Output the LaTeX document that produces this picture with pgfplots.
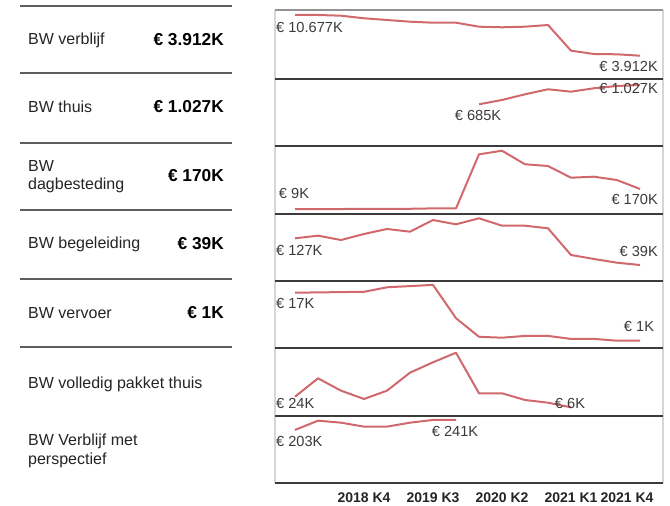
\documentclass[border=0pt]{standalone}
\usepackage{pgfplots}
\pgfplotsset{compat=1.18}
\usepackage{fontspec}
\setmainfont{Liberation Sans}
\definecolor{linecol}{HTML}{D0686C}
\definecolor{txt}{HTML}{252423}
\definecolor{ptxt}{HTML}{3A3A3A}
\definecolor{sep}{HTML}{3C3C3C}
\definecolor{lsep}{HTML}{5E5E5E}
\definecolor{side}{HTML}{D6D6D6}
\newcommand{\LF}{\fontsize{16}{18}\selectfont}
\newcommand{\VF}{\fontsize{17.3}{19}\selectfont\bfseries}
\newcommand{\PF}{\fontsize{14.6}{16}\selectfont}
\pgfplotsset{
  spark/.style={
    scale only axis, width=388pt,
    xmin=-0.8696, xmax=16,
    axis line style={draw=none},
    major tick length=0pt,
    xtick=\empty, ytick=\empty,
    anchor=south west,
  },
  sline/.style={color=linecol, line width=2pt, no markers, line join=round},
}
\begin{document}
\begin{tikzpicture}
\useasboundingbox (0,0) rectangle (670pt,506pt);

% ---- left table lines
\foreach \yy in {6,73,143,210,279,347}{
  \draw[lsep, line width=1.8pt] (20pt,{(506-\yy)*1pt}) -- (232pt,{(506-\yy)*1pt});
}
% ---- left labels (baselines)
\node[anchor=base west, inner sep=0, text=txt, font=\LF] at (28pt,{(506-44.3)*1pt}) {BW verblijf};
\node[anchor=base west, inner sep=0, text=txt, font=\LF] at (28pt,{(506-112.5)*1pt}) {BW thuis};
\node[anchor=base west, inner sep=0, text=txt, font=\LF] at (28pt,{(506-172)*1pt}) {BW};
\node[anchor=base west, inner sep=0, text=txt, font=\LF] at (28pt,{(506-190)*1pt}) {dagbesteding};
\node[anchor=base west, inner sep=0, text=txt, font=\LF] at (28pt,{(506-249)*1pt}) {BW begeleiding};
\node[anchor=base west, inner sep=0, text=txt, font=\LF] at (28pt,{(506-318.5)*1pt}) {BW vervoer};
\node[anchor=base west, inner sep=0, text=txt, font=\LF] at (28pt,{(506-388.5)*1pt}) {BW volledig pakket thuis};
\node[anchor=base west, inner sep=0, text=txt, font=\LF] at (28pt,{(506-446)*1pt}) {BW Verblijf met};
\node[anchor=base west, inner sep=0, text=txt, font=\LF] at (28pt,{(506-465)*1pt}) {perspectief};
% values
\node[anchor=base east, inner sep=0, text=black, font=\VF] at (224pt,{(506-45.3)*1pt}) {€ 3.912K};
\node[anchor=base east, inner sep=0, text=black, font=\VF] at (224pt,{(506-113)*1pt}) {€ 1.027K};
\node[anchor=base east, inner sep=0, text=black, font=\VF] at (224pt,{(506-181.3)*1pt}) {€ 170K};
\node[anchor=base east, inner sep=0, text=black, font=\VF] at (224pt,{(506-249.3)*1pt}) {€ 39K};
\node[anchor=base east, inner sep=0, text=black, font=\VF] at (224pt,{(506-319)*1pt}) {€ 1K};

% ---- right panel frame
\draw[side, line width=1.8pt] (275pt,{(506-10)*1pt}) -- (275pt,{(506-483)*1pt});
\draw[side, line width=1.8pt] (663pt,{(506-10)*1pt}) -- (663pt,{(506-483)*1pt});

% ---- sparklines
\begin{axis}[spark, at={(275pt,427pt)}, height=69pt, ymin=40, ymax=11508]
\addplot[sline] coordinates {(0,10677)(1,10677)(2,10561)(3,10129)(4,9846)(5,9563)(6,9397)(7,9397)(8,8732)(9,8633)(10,8732)(11,9015)(12,4744)(13,4195)(14,4145)(15,3912)};
\end{axis}
\begin{axis}[spark, at={(275pt,360pt)}, height=67pt, ymin=-54, ymax=1133]
\addplot[sline] coordinates {(8,685)(9,761)(10,862)(11,951)(12,908)(13,969)(14,1009)(15,1027)};
\end{axis}
\begin{axis}[spark, at={(275pt,292pt)}, height=68pt, ymin=-31, ymax=516]
\addplot[sline] coordinates {(0,9)(1,9)(2,9)(3,10)(4,10)(5,11)(6,14)(7,14)(8,449)(9,478)(10,369)(11,355)(12,261)(13,269)(14,242)(15,170)};
\end{axis}
\begin{axis}[spark, at={(275pt,225pt)}, height=67pt, ymin=-13.7, ymax=207.1]
\addplot[sline] coordinates {(0,127)(1,135.6)(2,121.4)(3,141.2)(4,157.7)(5,148.8)(6,187.3)(7,173.1)(8,192.9)(9,168.5)(10,168.5)(11,160)(12,72)(13,58.8)(14,46.6)(15,39)};
\end{axis}
\begin{axis}[spark, at={(275pt,158pt)}, height=67pt, ymin=-1.43, ymax=20.9]
\addplot[sline] coordinates {(0,17)(1,17.1)(2,17.2)(3,17.3)(4,18.8)(5,19.2)(6,19.6)(7,8.5)(8,2.3)(9,2.0)(10,2.6)(11,2.6)(12,1.6)(13,1.6)(14,1.0)(15,1.0)};
\end{axis}
\begin{axis}[spark, at={(275pt,90pt)}, height=68pt, ymin=-8.8, ymax=106.7]
\addplot[sline] coordinates {(0,24)(1,55.2)(2,34.2)(3,20.1)(4,34.2)(5,64.8)(6,82.4)(7,98.7)(8,29.8)(9,29.8)(10,18.4)(11,13.8)(12,6)};
\end{axis}
\begin{axis}[spark, at={(275pt,23pt)}, height=67pt, ymin=0, ymax=256.2,
  xtick={3,6,9,12}, xticklabels={2018 K4,2019 K3,2020 K2,2021 K1},
  extra x ticks={15}, extra x tick labels={2021 K4},
  extra x tick style={xticklabel style={xshift=-13pt}},
  xticklabel style={font=\fontsize{14}{16}\selectfont\bfseries, text=txt, anchor=base, yshift=-20pt}]
\addplot[sline] coordinates {(0,203)(1,238.3)(2,230.7)(3,215.5)(4,215.5)(5,230.7)(6,241)(7,241)};
\end{axis}

% ---- right panel horizontal lines
\draw[gray!85, line width=2pt] (275pt,{(506-10)*1pt}) -- (663pt,{(506-10)*1pt});
\foreach \yy in {79,146,214,281,348,416,483}{
  \draw[sep, line width=1.4pt] (275pt,{(506-\yy)*1pt}) -- (663pt,{(506-\yy)*1pt});
}

% ---- panel data labels
\node[anchor=base west, inner sep=0, text=ptxt, font=\PF] at (276pt,{(506-32.2)*1pt}) {€ 10.677K};
\node[anchor=base east, inner sep=0, text=ptxt, font=\PF] at (658pt,{(506-71.9)*1pt}) {€ 3.912K};
\node[anchor=base east, inner sep=0, text=ptxt, font=\PF] at (658pt,{(506-93.5)*1pt}) {€ 1.027K};
\node[anchor=base, inner sep=0, text=ptxt, font=\PF] at (478pt,{(506-120.9)*1pt}) {€ 685K};
\node[anchor=base, inner sep=0, text=ptxt, font=\PF] at (294pt,{(506-198.5)*1pt}) {€ 9K};
\node[anchor=base east, inner sep=0, text=ptxt, font=\PF] at (658pt,{(506-204.5)*1pt}) {€ 170K};
\node[anchor=base west, inner sep=0, text=ptxt, font=\PF] at (276pt,{(506-255.2)*1pt}) {€ 127K};
\node[anchor=base east, inner sep=0, text=ptxt, font=\PF] at (658pt,{(506-256.2)*1pt}) {€ 39K};
\node[anchor=base west, inner sep=0, text=ptxt, font=\PF] at (276pt,{(506-308.5)*1pt}) {€ 17K};
\node[anchor=base, inner sep=0, text=ptxt, font=\PF] at (639pt,{(506-331.9)*1pt}) {€ 1K};
\node[anchor=base west, inner sep=0, text=ptxt, font=\PF] at (276pt,{(506-408.5)*1pt}) {€ 24K};
\node[anchor=base, inner sep=0, text=ptxt, font=\PF] at (570pt,{(506-408.5)*1pt}) {€ 6K};
\node[anchor=base west, inner sep=0, text=ptxt, font=\PF] at (276pt,{(506-446.2)*1pt}) {€ 203K};
\node[anchor=base, inner sep=0, text=ptxt, font=\PF] at (455pt,{(506-436.9)*1pt}) {€ 241K};
\end{tikzpicture}
\end{document}
